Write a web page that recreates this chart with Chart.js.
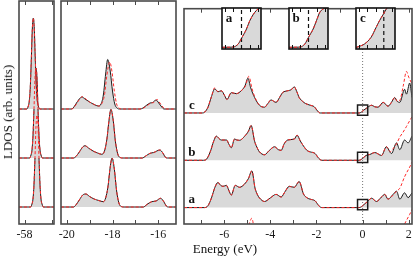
<!DOCTYPE html>
<html><head><meta charset="utf-8">
<script src="https://cdn.jsdelivr.net/npm/chart.js@4.4.0/dist/chart.umd.min.js"></script>
<style>
body{margin:0;background:#fff;}
#wrap{position:relative;width:415px;height:257px;overflow:hidden;background:#fff;}
canvas{position:absolute;}
.lbl{position:absolute;font-family:"Liberation Serif",serif;font-size:13px;color:#111;white-space:nowrap;}
</style></head><body>
<div id="wrap">
<canvas id="p1"></canvas><canvas id="p2"></canvas><canvas id="p3"></canvas>
<canvas id="i1"></canvas><canvas id="i2"></canvas><canvas id="i3"></canvas>
<div class="lbl" id="ylab" style="left:8px;top:112px;transform:translate(-50%,-50%) rotate(-90deg);">LDOS (arb. units)</div>
<div class="lbl" id="xlab" style="left:225px;top:249px;transform:translate(-50%,-50%);">Energy (eV)</div>
</div>
<script>
// ---------- DATA ----------
const curveNames = ['a', 'b', 'c'];
const stackOffset = [0, 49, 98];          // vertical offset of a, b, c (arb. units)

// Panel 1 : around -58 eV
const p1Ticks = [-58, -57.5];
const p1Labels = [-58];
const p1E_a = [-58.1, -57.891, -57.864, -57.846, -57.828, -57.809, -57.791, -57.773, -57.755, -57.737, -57.718, -57.700, -57.682, -57.655, -57.464];
const p1H_a = [0, 0, 3, 8, 22, 50, 81, 92, 81, 50, 22, 8, 3, 0, 0];
const p1E_b = [-58.1, -57.909, -57.882, -57.864, -57.846, -57.827, -57.809, -57.791, -57.773, -57.755, -57.736, -57.718, -57.700, -57.673, -57.464];
const p1H_b = [0, 0, 3, 8, 22, 50, 80, 90, 80, 50, 22, 8, 3, 0, 0];
const p1E_c = [-58.1, -57.958, -57.931, -57.913, -57.895, -57.876, -57.858, -57.84, -57.822, -57.804, -57.785, -57.767, -57.749, -57.722, -57.464];
const p1H_c = [0, 0, 3, 8, 22, 50, 80, 91, 80, 50, 22, 8, 3, 0, 0];

// Panel 2 : -20 .. -15 eV
const p2Ticks = [-20, -19, -18, -17, -16];
const p2Labels = [-20, -18, -16];
const p2E_a = [-20.25, -19.7, -19.6, -19.45, -19.3, -19.16, -19.0, -18.8, -18.6, -18.4, -18.3, -18.2, -18.1, -18.02, -17.92, -17.82, -17.72, -17.62, -17.5, -16.65, -16.5, -16.29, -16.1, -15.9, -15.75, -15.65, -15.55, -15.23];
const p2H_a = [0, 0, 2, 7, 12, 13, 10.5, 8, 6.5, 5.3, 9, 20, 40, 49, 38, 16, 4, 0.5, 0, 0, 2.5, 5.3, 6, 8.7, 5, 1, 0, 0];
const p2E_b = [-20.25, -19.7, -19.6, -19.45, -19.3, -19.2, -19.05, -18.85, -18.65, -18.47, -18.35, -18.25, -18.15, -18.07, -17.97, -17.87, -17.77, -17.67, -17.55, -16.7, -16.55, -16.36, -16.2, -15.93, -15.8, -15.7, -15.6, -15.23];
const p2H_b = [0, 0, 1.5, 6, 11, 12.3, 10, 7, 5, 3.7, 7, 18, 38, 48.7, 38, 16, 4, 0.5, 0, 0, 2, 4.7, 5.5, 8, 5, 1, 0, 0];
const p2E_c = [-20.25, -19.8, -19.72, -19.6, -19.45, -19.34, -19.2, -19.0, -18.8, -18.62, -18.5, -18.4, -18.3, -18.21, -18.1, -18.0, -17.9, -17.8, -17.7, -16.8, -16.67, -16.5, -16.36, -16.25, -16.1, -15.98, -15.85, -15.75, -15.23];
const p2H_c = [0, 0, 1, 5, 10, 12, 10, 7, 4.5, 3, 5, 14, 35, 49.5, 38, 18, 5, 1, 0, 0, 1, 4, 6, 6.5, 9, 6, 2, 0, 0];
const p2RE_c = [-20.25, -19.8, -19.7, -19.58, -19.43, -19.3, -19.17, -19.0, -18.8, -18.6, -18.48, -18.35, -18.25, -18.12, -18.02, -17.92, -17.82, -17.72, -17.6, -16.8, -16.65, -16.45, -16.32, -16.2, -16.05, -15.93, -15.8, -15.7, -15.23];
const p2RH_c = [0, 0, 1, 5, 10, 12.5, 10, 7, 4.5, 3, 5, 14, 33, 47, 37, 18, 5, 1, 0, 0, 1, 4, 6, 6.5, 9.5, 6, 2, 0, 0];

// Panel 3 : -7.7 .. 2.1 eV
const p3Ticks = [-7, -6, -5, -4, -3, -2, -1, 0, 1, 2];
const p3Labels = [-6, -4, -2, 0, 2];
const fermiE = 0;
const p3E_a = [-7.74, -6.85, -6.7, -6.55, -6.4, -6.27, -6.15, -6.05, -5.9, -5.8, -5.69, -5.52, -5.33, -5.12, -4.95, -4.8, -4.66, -4.55, -4.47, -4.25, -4.0, -3.75, -3.53, -3.35, -3.18, -2.96, -2.75, -2.56, -2.4, -2.27, -2.06, -1.9, -1.77, -0.15, -0.05, 0.05, 0.2, 0.39, 0.6, 0.82, 0.96, 1.1, 1.32, 1.47, 1.61, 1.82, 1.97, 2.14];
const p3H_a = [0, 0, 2, 10, 21, 26, 23, 22, 23, 18, 13, 23, 21, 24.3, 30, 38, 20, 13, 10, 6.3, 10, 13.7, 11, 17, 22, 21, 27, 14, 10, 8.7, 7, 2, 0, 0, 1, 3, 6, 9.7, 6.3, 11, 13.7, 8.7, 13.7, 17, 8.7, 15.3, 10.3, 15.3];
const p3RE_a = [-7.74, -6.85, -6.7, -6.55, -6.4, -6.27, -6.15, -6.05, -5.9, -5.8, -5.69, -5.52, -5.33, -5.12, -4.95, -4.8, -4.66, -4.55, -4.47, -4.25, -4.0, -3.75, -3.53, -3.35, -3.18, -2.96, -2.75, -2.56, -2.4, -2.27, -2.06, -1.9, -1.77, -0.15, -0.05, 0.05, 0.2, 0.39, 0.6, 0.82, 0.96, 1.1, 1.32, 1.47, 1.61, 1.82, 2.04, 2.14];
const p3RH_a = [0, 0, 2, 10, 21, 26, 23, 22, 23, 18, 13, 23, 21, 24.3, 30, 38, 20, 13, 10, 6.3, 10, 13.7, 11, 17, 22, 21, 27, 14, 10, 8.7, 7, 2, 0, 0, 1, 3, 6, 9.7, 6.3, 11, 13.7, 8.7, 13, 17, 20, 32, 42, 47];
const p3E_b = [-7.74, -6.9, -6.77, -6.6, -6.45, -6.34, -6.2, -6.12, -5.9, -5.78, -5.69, -5.55, -5.45, -5.33, -5.12, -4.95, -4.83, -4.68, -4.55, -4.47, -4.25, -4.05, -3.82, -3.65, -3.53, -3.4, -3.25, -2.96, -2.84, -2.7, -2.56, -2.4, -2.27, -2.06, -1.9, -1.77, -0.15, -0.05, 0.05, 0.15, 0.31, 0.53, 0.82, 1.03, 1.25, 1.47, 1.61, 1.82, 1.97, 2.14];
const p3H_b = [0, 0, 1, 9, 20, 25, 22, 21, 21, 16, 13, 22, 21, 20.7, 24.7, 30, 36, 19.7, 12, 8.7, 5.7, 10, 14, 11, 10.3, 17, 21, 22, 26, 20, 14.7, 10, 8.7, 7, 2, 0, 0, 1, 3, 5, 6, 8, 5, 14, 7, 18, 11, 21, 18, 25];
const p3RE_b = [-7.74, -6.9, -6.77, -6.6, -6.45, -6.34, -6.2, -6.12, -5.9, -5.78, -5.69, -5.55, -5.45, -5.33, -5.12, -4.95, -4.83, -4.68, -4.55, -4.47, -4.25, -4.05, -3.82, -3.65, -3.53, -3.4, -3.25, -2.96, -2.84, -2.7, -2.56, -2.4, -2.27, -2.06, -1.9, -1.77, -0.15, -0.05, 0.05, 0.15, 0.31, 0.53, 0.82, 1.03, 1.2, 1.32, 1.47, 1.61, 1.75, 1.9, 2.04, 2.14];
const p3RH_b = [0, 0, 1, 9, 20, 25, 22, 21, 21, 16, 13, 22, 21, 20.7, 24.7, 30, 36, 19.7, 12, 8.7, 5.7, 10, 14, 11, 10.3, 17, 21, 22, 26, 20, 14.7, 10, 8.7, 7, 2, 0, 0, 1, 3, 5, 6, 8, 5, 14, 9, 12, 17, 24, 29, 35, 41, 45];
const p3E_c = [-7.74, -6.95, -6.84, -6.7, -6.55, -6.41, -6.27, -6.12, -5.98, -5.88, -5.69, -5.47, -5.26, -5.1, -4.97, -4.85, -4.68, -4.47, -4.25, -4.1, -3.97, -3.75, -3.6, -3.47, -3.25, -3.1, -2.96, -2.85, -2.75, -2.6, -2.49, -2.27, -2.1, -1.95, -1.84, -0.15, -0.05, 0.05, 0.17, 0.39, 0.52, 0.67, 0.89, 1.1, 1.25, 1.39, 1.5, 1.61, 1.82, 1.9, 2.04, 2.14];
const p3H_c = [0, 0, 1, 6, 17, 25, 22, 23, 18, 14, 21, 20, 23, 28, 36, 26, 16, 8, 6, 10, 13.5, 11, 16, 21, 23, 24, 27, 22, 16, 12, 10, 8, 6.5, 2, 0, 0, 1, 3, 5, 8, 6.5, 6, 11, 7, 11, 16, 12, 11, 24.5, 19.5, 31, 16];
const p3RE_c = [-7.74, -6.95, -6.84, -6.7, -6.55, -6.41, -6.27, -6.12, -5.98, -5.88, -5.69, -5.47, -5.26, -5.08, -4.93, -4.8, -4.68, -4.47, -4.25, -4.1, -3.97, -3.75, -3.6, -3.47, -3.25, -3.1, -2.96, -2.85, -2.75, -2.6, -2.49, -2.27, -2.1, -1.95, -1.84, -0.15, -0.05, 0.05, 0.17, 0.39, 0.52, 0.67, 0.89, 1.1, 1.25, 1.39, 1.5, 1.61, 1.76, 1.9, 2.0, 2.14];
const p3RH_c = [0, 0, 1, 6, 17, 26, 22, 23, 18, 14, 21, 20, 23, 28, 38, 26, 17, 8, 6, 10, 13.5, 11, 16, 21, 23, 24, 27, 22, 16, 12, 10, 8, 6.5, 2, 0, 0, 1, 3, 5, 8, 6.5, 6, 11, 7, 11, 16, 12, 13, 28, 43, 37, 30];
const markerH = [3, 3, 3];                // square markers at the Fermi level

// Insets (zoom of the region around E = 0)
const insetTicks = [-0.2, -0.1, 0, 0.1, 0.2];
const insetDash = [0, 0, 0.1];
const insE_a = [-0.235, -0.15, -0.1, -0.04, 0, 0.06, 0.1, 0.16, 0.2, 0.235];
const insH_a = [1.7, 1.8, 2, 5, 10.7, 20, 28.3, 36.7, 40, 41];
const insE_b = [-0.235, -0.15, -0.1, -0.044, 0, 0.056, 0.096, 0.136, 0.176, 0.2, 0.235];
const insH_b = [1.7, 1.8, 2, 5, 11.7, 20, 28.3, 36.7, 40, 41, 41];
const insE_c = [-0.235, -0.2, -0.133, -0.053, 0.008, 0.048, 0.096, 0.13, 0.16, 0.235];
const insH_c = [1.5, 2.5, 5, 11.7, 21.7, 28.3, 35, 40, 43, 48];

// ---------- STYLE / BUILD ----------
const BLACK = '#1c1c1c', RED = '#ff2a2a', GRAY = '#d9d9d9', FRAME = '#4a4a4a';
const YMIN = -17, YMAX = 206;
const pts = (E, H, off) => E.map((e, i) => ({x: e, y: H[i] + off}));

function curveSets(list) {
  const ds = [];
  list.forEach((c, i) => {
    const off = stackOffset[i];
    ds.push({data: pts(c.E, c.H, off), borderColor: BLACK, borderWidth: 1, backgroundColor: GRAY,
      fill: {value: off}, pointRadius: 0, cubicInterpolationMode: 'monotone', order: 20 - i});
    ds.push({data: pts(c.RE, c.RH, off), borderColor: RED, borderWidth: 1, borderDash: [3, 2],
      fill: false, pointRadius: 0, cubicInterpolationMode: 'monotone', order: 5 - i});
  });
  return ds;
}

function framePlugin(cfg) {
  return {
    id: 'frame' + Math.random().toString(36).slice(2),
    beforeDatasetsDraw(chart) {
      if (!cfg.white) return;
      const {ctx, chartArea: a} = chart;
      ctx.save(); ctx.fillStyle = '#fff'; ctx.fillRect(a.left, a.top, a.width, a.height); ctx.restore();
    },
    afterDatasetsDraw(chart) {
      const {ctx, chartArea: a} = chart, x = chart.scales.x, y = chart.scales.y;
      ctx.save();
      ctx.strokeStyle = cfg.color; ctx.lineWidth = 1;
      cfg.ticks.forEach(v => {
        const px = Math.round(x.getPixelForValue(v)) + 0.5;
        ctx.beginPath();
        ctx.moveTo(px, a.bottom); ctx.lineTo(px, a.bottom - cfg.len);
        ctx.moveTo(px, a.top); ctx.lineTo(px, a.top + cfg.len);
        ctx.stroke();
      });
      if (cfg.labels) {
        ctx.fillStyle = '#111'; ctx.font = 'bold 13px "Liberation Serif"';
        ctx.textAlign = 'center'; ctx.textBaseline = 'middle';
        cfg.labels.forEach(l => {
          const px = l.px !== undefined ? a.left + l.px : x.getPixelForValue(l.x);
          const py = l.py !== undefined ? a.top + l.py : y.getPixelForValue(l.y);
          ctx.fillText(l.t, px, py);
        });
      }
      ctx.lineWidth = cfg.border; ctx.strokeStyle = cfg.color;
      ctx.strokeRect(a.left, a.top, a.width, a.height);
      ctx.restore();
    }
  };
}

function makePanel(id, left, width, xmin, xmax, ticks, labels, datasets, extraLabels) {
  const padL = 14, padR = 14;
  const cv = document.getElementById(id);
  cv.width = width + padL + padR; cv.height = 257;
  cv.style.left = (left - padL) + 'px'; cv.style.top = '0px';
  return new Chart(cv, {
    type: 'line',
    data: {datasets},
    options: {
      responsive: false, animation: false, devicePixelRatio: 1,
      layout: {padding: {left: padL, right: padR, top: 1, bottom: 0}},
      plugins: {legend: {display: false}, tooltip: {enabled: false}},
      scales: {
        x: {type: 'linear', min: xmin, max: xmax,
          grid: {display: false, drawTicks: false}, border: {display: false},
          afterBuildTicks: s => { s.ticks = ticks.map(v => ({value: v})); },
          afterFit: s => { s.height = 33; },
          ticks: {autoSkip: false, maxRotation: 0, padding: 4, color: '#1a1a1a',
            font: {family: 'Liberation Serif', size: 12},
            callback: v => labels.includes(v) ? String(v) : ''}},
        y: {display: false, min: YMIN, max: YMAX}
      }
    },
    plugins: [framePlugin({ticks, len: 4, color: FRAME, border: 1.6, labels: extraLabels})]
  });
}

// Panel 1
makePanel('p1', 19, 35, -58.1, -57.464, p1Ticks, p1Labels, curveSets([
  {E: p1E_a, H: p1H_a, RE: p1E_a, RH: p1H_a},
  {E: p1E_b, H: p1H_b, RE: p1E_b, RH: p1H_b},
  {E: p1E_c, H: p1H_c, RE: p1E_c, RH: p1H_c}]));

// Panel 2
makePanel('p2', 61, 115, -20.249, -15.227, p2Ticks, p2Labels, curveSets([
  {E: p2E_a, H: p2H_a, RE: p2E_a, RH: p2H_a},
  {E: p2E_b, H: p2H_b, RE: p2E_b, RH: p2H_b},
  {E: p2E_c, H: p2H_c, RE: p2RE_c, RH: p2RH_c}]));

// Panel 3
const p3sets = curveSets([
  {E: p3E_a, H: p3H_a, RE: p3RE_a, RH: p3RH_a},
  {E: p3E_b, H: p3H_b, RE: p3RE_b, RH: p3RH_b},
  {E: p3E_c, H: p3H_c, RE: p3RE_c, RH: p3RH_c}]);
// lower (clipped) red curve, only its tallest features reach into the frame
p3sets.push({data: pts(p3RE_a, p3RH_a, -stackOffset[1]), borderColor: RED, borderWidth: 1, borderDash: [3, 2],
  fill: false, pointRadius: 0, cubicInterpolationMode: 'monotone', order: 6});
p3sets.push({data: [{x: fermiE, y: YMIN}, {x: fermiE, y: YMAX}], borderColor: '#777', borderWidth: 1,
  borderDash: [1, 2], pointRadius: 0, fill: false, order: 15});
p3sets.push({type: 'scatter', data: markerH.map((h, i) => ({x: fermiE, y: h + stackOffset[i]})),
  pointStyle: 'rect', pointRadius: 7.2, pointBorderColor: BLACK, pointBackgroundColor: 'rgba(0,0,0,0)',
  pointBorderWidth: 1.5, showLine: false, order: -1});
makePanel('p3', 184, 228, -7.74, 2.14, p3Ticks, p3Labels, p3sets,
  curveNames.map((n, i) => ({t: n, x: -7.4, y: stackOffset[i] + 8})));

// Insets
function makeInset(id, left, top, w, h, E, H, dashE, name) {
  const pad = 2;
  const cv = document.getElementById(id);
  cv.width = w + 2 * pad; cv.height = h + 2 * pad;
  cv.style.left = (left - pad) + 'px'; cv.style.top = (top - pad) + 'px';
  new Chart(cv, {
    type: 'line',
    data: {datasets: [
      {data: pts(E, H, 0), borderColor: RED, borderWidth: 1, borderDash: [3, 2], pointRadius: 0, fill: false,
        cubicInterpolationMode: 'monotone', order: 0},
      {data: [{x: dashE, y: 0}, {x: dashE, y: h}], borderColor: '#111', borderWidth: 1.2, borderDash: [4, 3],
        pointRadius: 0, fill: false, order: 1},
      {data: pts(E, H, 0), borderColor: BLACK, borderWidth: 1, backgroundColor: GRAY, fill: {value: 0},
        pointRadius: 0, cubicInterpolationMode: 'monotone', order: 2}
    ]},
    options: {
      responsive: false, animation: false, devicePixelRatio: 1,
      layout: {padding: pad},
      plugins: {legend: {display: false}, tooltip: {enabled: false}},
      scales: {x: {type: 'linear', display: false, min: -0.235, max: 0.235},
               y: {display: false, min: 0, max: h}}
    },
    plugins: [framePlugin({ticks: insetTicks.filter(v => v !== dashE), len: 4, color: '#111', border: 1.6, white: true,
      labels: [{t: name, px: 7, py: 11}]})]
  });
}
makeInset('i1', 222, 8, 39, 41, insE_a, insH_a, insetDash[0], curveNames[0]);
makeInset('i2', 289, 8, 39, 41, insE_b, insH_b, insetDash[1], curveNames[1]);
makeInset('i3', 356, 8, 39, 41, insE_c, insH_c, insetDash[2], curveNames[2]);
</script>
</body></html>
